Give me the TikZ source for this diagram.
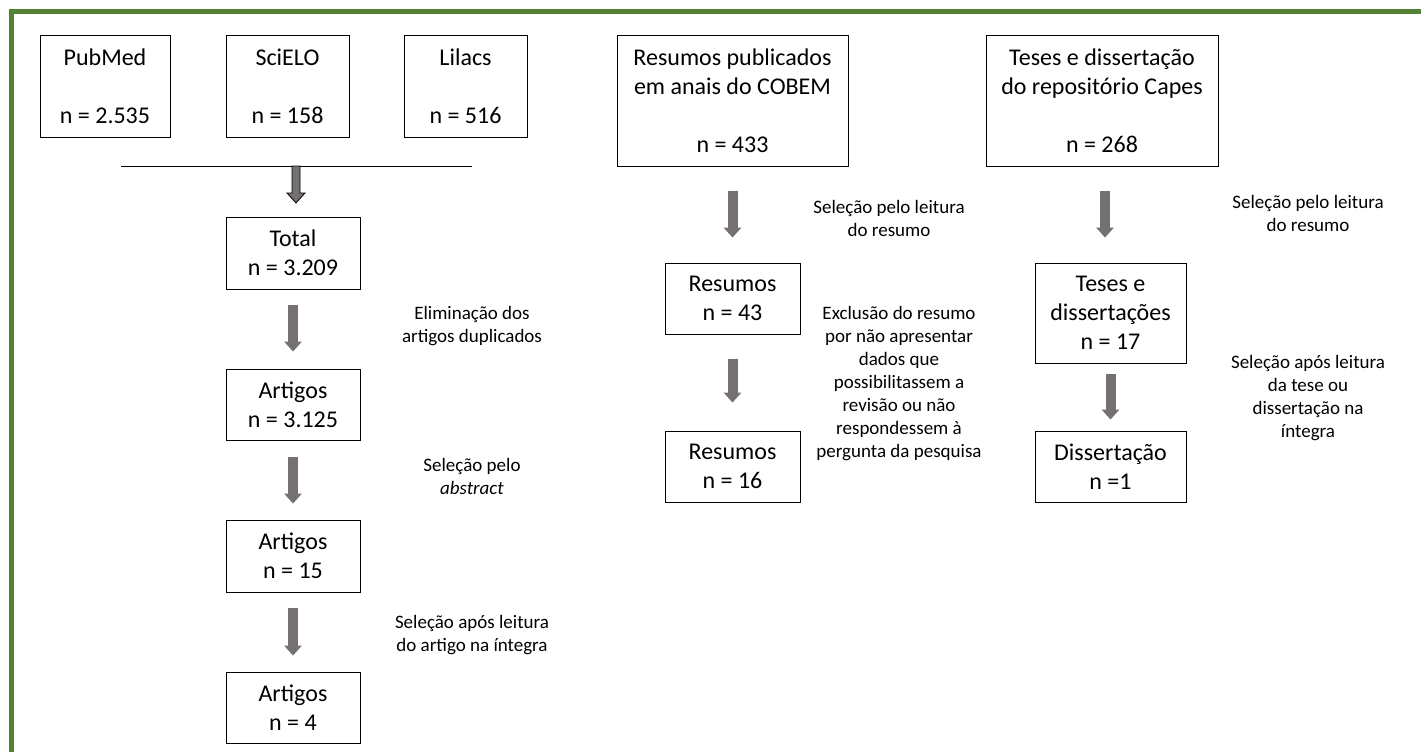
\documentclass[tikz,border=0pt]{standalone}
\usepackage{fontspec}
\setmainfont{Carlito}
\usetikzlibrary{arrows.meta}

\definecolor{framegreen}{HTML}{548235}
\definecolor{arrowgray}{HTML}{767171}

\tikzset{
  box/.style={draw, line width=1pt, align=center, inner sep=0pt,
    font=\fontsize{24}{29}\selectfont},
  note/.style={align=center, inner sep=0pt, font=\fontsize{19}{23}\selectfont},
  flow/.style={draw=arrowgray, line width=10pt,
    -{Triangle[width=18pt,length=10pt,line width=0pt]}},
}

\begin{document}
\begin{tikzpicture}[x=1pt,y=-1pt]
  \useasboundingbox (0,0) rectangle (1421,752);
  \draw[framegreen, line width=5pt] (11.5,752) -- (11.5,11.5) -- (1421,11.5);
  %
  % bases de dados
  \node (pubmed) [box, minimum width=130pt, minimum height=101pt] at (105,86.5)   {PubMed\\[29pt]n = 2.535};
  \node (scielo) [box, minimum width=123pt, minimum height=101pt] at (287.5,86.5) {SciELO\\[29pt]n = 158};
  \node (lilacs) [box, minimum width=123pt, minimum height=101pt] at (465.5,86.5) {Lilacs\\[29pt]n = 516};
  %
  \coordinate (mergeL) at (121,166);
  \coordinate (mergeR) at (472,166);
  \coordinate (merge)  at (296,166);
  \draw[line width=0.8pt] (mergeL) -- (mergeR);
  \begin{scope}[shift={(merge)}]
    \filldraw[fill=arrowgray, draw=black, line width=0.8pt]
      (-4,0) -- (-4,27) -- (-9,27) -- (0,37) -- (9,27) -- (4,27) -- (4,0) -- cycle;
  \end{scope}
  %
  \node (total) [box, minimum width=134pt, minimum height=72pt] at (293,253)   {Total\\n = 3.209};
  \node (art1)  [box, minimum width=134pt, minimum height=71pt] at (293,404.5) {Artigos\\n = 3.125};
  \node (art2)  [box, minimum width=134pt, minimum height=72pt] at (293,556)   {Artigos\\n = 15};
  \node (art3)  [box, minimum width=134pt, minimum height=71pt] at (293,707.5) {Artigos\\n = 4};
  %
  \draw[flow, shorten <=15pt, shorten >=17pt] (total) -- (art1);
  \draw[flow, shorten <=16pt, shorten >=16pt] (art1) -- (art2);
  \draw[flow, shorten <=15pt, shorten >=16pt] (art2) -- (art3);
  %
  \node (elim) [note] at (472,326)   {Eliminação dos\\artigos duplicados};
  \node (abst) [note] at (472,476.5) {Seleção pelo\\\textit{abstract}};
  \node (inte) [note] at (472,635.5) {Seleção após leitura\\do artigo na íntegra};
  %
  % COBEM
  \node (cobem) [box, minimum width=231pt, minimum height=130pt] at (732.5,101)
    {Resumos publicados\\em anais do COBEM\\[29pt]n = 433};
  \node (res1) [box, minimum width=135pt, minimum height=71pt] at (732.5,298.5) {Resumos\\n = 43};
  \node (res2) [box, minimum width=135pt, minimum height=71pt] at (732.5,466.5) {Resumos\\n = 16};
  %
  \draw[flow, shorten <=24pt, shorten >=25pt] (cobem) -- (res1);
  \draw[flow, shorten <=24pt, shorten >=28pt] (res1) -- (res2);
  %
  \node (selres) [note] at (889,218.5) {Seleção pelo leitura\\do resumo};
  \node (exclu)  [note] at (899,383.5)
    {Exclusão do resumo\\por não apresentar\\dados que\\possibilitassem a\\revisão ou não\\respondessem à\\pergunta da pesquisa};
  %
  % Capes
  \node (capes) [box, minimum width=232pt, minimum height=130pt] at (1102,101)
    {Teses e dissertação\\do repositório Capes\\[29pt]n = 268};
  \node (teses) [box, minimum width=151pt, minimum height=100pt] at (1110.5,313)   {Teses e\\dissertações\\n = 17};
  \node (diss)  [box, minimum width=151pt, minimum height=71pt]  at (1110.5,466.5) {Dissertação\\n =1};
  %
  \draw[flow, shorten <=24pt, shorten >=25pt] ([xshift=3pt]capes.south) -- ([xshift=3pt]capes.south |- teses.north);
  \draw[flow, shorten <=10pt, shorten >=11pt] (teses) -- (diss);
  %
  \node (selcap) [note] at (1308,213)   {Seleção pelo leitura\\do resumo};
  \node (seltes) [note] at (1308,398.5) {Seleção após leitura\\da tese ou\\dissertação na\\íntegra};
\end{tikzpicture}
\end{document}
